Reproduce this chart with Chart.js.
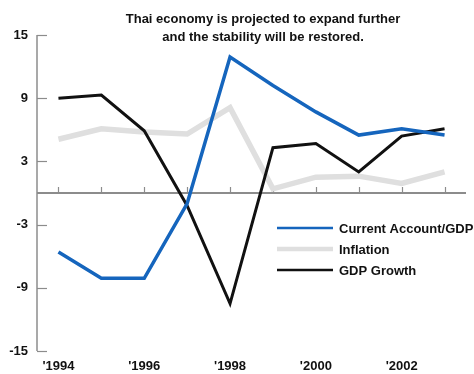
<!DOCTYPE html>
<html lang="en">
<head>
    <meta charset="UTF-8">
    <title>Thai Economy Outlook</title>
    <script src="https://cdn.jsdelivr.net/npm/chart.js"></script>
    <style>
        html, body { margin: 0; padding: 0; background: #fff; }
        .chart-container { position: relative; width: 474px; height: 374px; }
    </style>
</head>
<body>
    <div class="chart-container">
        <canvas id="thaiChart"></canvas>
    </div>

    <script>
        // Data (percent)
        const years = ['1994', '1995', '1996', '1997', '1998', '1999', '2000', '2001', '2002', '2003'];
        const currentAccount = [-5.6, -8.1, -8.1, -1.0, 12.9, 10.2, 7.7, 5.5, 6.1, 5.5];
        const inflation = [5.1, 6.1, 5.8, 5.6, 8.1, 0.4, 1.5, 1.6, 0.9, 2.0];
        const gdpGrowth = [9.0, 9.3, 5.9, -1.2, -10.5, 4.3, 4.7, 2.0, 5.4, 6.1];
        const yTicks = [15, 9, 3, -3, -9, -15];
        const titleLines = ['Thai economy is projected to expand further', 'and the stability will be restored.'];

        const axisGrey = '#8c8c8c';
        const fontFamily = '"Liberation Sans", Arial, sans-serif';

        // Title, legend, zero line and inward tick marks
        const decorations = {
            id: 'decorations',
            beforeDatasetsDraw(chart) {
                const { ctx, chartArea, scales: { x, y } } = chart;
                ctx.save();
                ctx.strokeStyle = axisGrey;
                // zero line with small category ticks above it
                const y0 = y.getPixelForValue(0);
                ctx.lineWidth = 2;
                ctx.beginPath();
                ctx.moveTo(chartArea.left, y0);
                ctx.lineTo(chartArea.right, y0);
                ctx.stroke();
                ctx.lineWidth = 1.2;
                years.forEach((yr, i) => {
                    const px = Math.round(x.getPixelForValue(i)) + 0.5;
                    ctx.beginPath();
                    ctx.moveTo(px, y0);
                    ctx.lineTo(px, y0 - 6);
                    ctx.stroke();
                });
                // left axis with inward ticks
                ctx.lineWidth = 1.5;
                ctx.beginPath();
                ctx.moveTo(chartArea.left, y.getPixelForValue(15));
                ctx.lineTo(chartArea.left, y.getPixelForValue(-15));
                ctx.stroke();
                ctx.lineWidth = 1.2;
                yTicks.forEach(v => {
                    const py = Math.round(y.getPixelForValue(v)) + 0.5;
                    ctx.beginPath();
                    ctx.moveTo(chartArea.left, py);
                    ctx.lineTo(chartArea.left + 10, py);
                    ctx.stroke();
                });
                ctx.restore();
            },
            afterDraw(chart) {
                const { ctx } = chart;
                ctx.save();
                ctx.fillStyle = '#111';
                ctx.textAlign = 'center';
                ctx.textBaseline = 'middle';
                ctx.font = 'bold 13px ' + fontFamily;
                ctx.fillText(titleLines[0], 263, 19);
                ctx.fillText(titleLines[1], 263, 37);

                // legend
                ctx.textAlign = 'left';
                ctx.font = 'bold 13px ' + fontFamily;
                const rows = [228, 249, 270];
                const legendWidths = [2.5, 4.5, 2.5];
                chart.data.datasets.forEach((ds, i) => {
                    const ry = rows[i];
                    ctx.strokeStyle = ds.borderColor;
                    ctx.lineWidth = legendWidths[i];
                    ctx.beginPath();
                    ctx.moveTo(277, ry);
                    ctx.lineTo(333, ry);
                    ctx.stroke();
                    ctx.fillStyle = '#111';
                    ctx.fillText(ds.label, 339, ry + 1);
                });
                ctx.restore();
            }
        };

        new Chart(document.getElementById('thaiChart'), {
            type: 'line',
            data: {
                labels: years,
                datasets: [
                    {
                        label: 'Current Account/GDP',
                        data: currentAccount,
                        borderColor: '#1565bd',
                        borderWidth: 3.5,
                        order: 0
                    },
                    {
                        label: 'Inflation',
                        data: inflation,
                        borderColor: '#dfdfdf',
                        borderWidth: 5.5,
                        order: 2
                    },
                    {
                        label: 'GDP Growth',
                        data: gdpGrowth,
                        borderColor: '#111111',
                        borderWidth: 3,
                        order: 1
                    }
                ]
            },
            options: {
                responsive: true,
                maintainAspectRatio: false,
                animation: false,
                layout: { padding: { top: 35, right: 8, left: 0, bottom: 0 } },
                elements: {
                    point: { radius: 0 },
                    line: { tension: 0, borderJoinStyle: 'miter', borderCapStyle: 'butt' }
                },
                plugins: {
                    legend: { display: false },
                    tooltip: { enabled: false },
                    title: { display: false }
                },
                scales: {
                    x: {
                        offset: true,
                        grid: { display: false, drawTicks: false },
                        border: { display: false },
                        afterFit: s => { s.height = 23; },
                        ticks: {
                            autoSkip: false,
                            maxRotation: 0,
                            padding: 8,
                            color: '#111',
                            font: { family: fontFamily, size: 13, weight: 'bold' },
                            callback: function (val, i) {
                                return i % 2 === 0 ? "'" + years[i] : '';
                            }
                        }
                    },
                    y: {
                        min: -15,
                        max: 15,
                        grid: { display: false, drawTicks: false },
                        border: { display: false },
                        afterFit: s => { s.width = 37; },
                        afterBuildTicks: s => { s.ticks = yTicks.map(v => ({ value: v })); },
                        ticks: {
                            padding: 9,
                            color: '#111',
                            font: { family: fontFamily, size: 13, weight: 'bold' }
                        }
                    }
                }
            },
            plugins: [decorations]
        });
    </script>
</body>
</html>
